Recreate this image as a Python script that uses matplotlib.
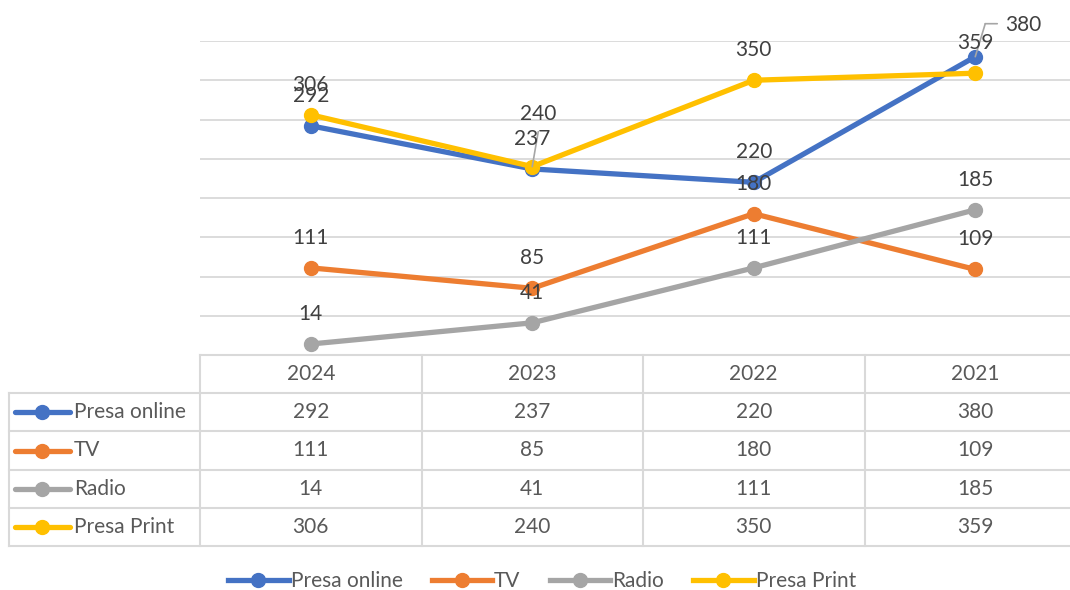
import matplotlib
matplotlib.use("Agg")
import matplotlib.pyplot as plt
from matplotlib.lines import Line2D
from matplotlib.transforms import offset_copy

plt.rcParams['font.family'] = ['Lato', 'DejaVu Sans']

years = ["2024", "2023", "2022", "2021"]
series_names = ["Presa online", "TV", "Radio", "Presa Print"]
presa_online = [292, 237, 220, 380]
tv = [111, 85, 180, 109]
radio = [14, 41, 111, 185]
presa_print = [306, 240, 350, 359]
series_values = [presa_online, tv, radio, presa_print]
colors = ["#4472C4", "#ED7D31", "#A5A5A5", "#FFC000"]

W, H = 1070, 590
fig = plt.figure(figsize=(W / 100, H / 100), dpi=100)

def fx(px):
    return px / W

def fy(py):
    return 1 - py / H

# plot area: x 200..1086 px, y 41..355 px
L, R, T, B = 200, 1086, 41, 355
ax = fig.add_axes([fx(L), fy(B), fx(R - L), (B - T) / H])
ax.set_xlim(0, len(years))
ax.set_ylim(0, 400)
for s in ax.spines.values():
    s.set_visible(False)
ax.set_xticks([])
ax.set_yticks(range(50, 401, 50))
ax.tick_params(left=False, labelleft=False)
ax.yaxis.grid(True, color="#d9d9d9", linewidth=1.3)
ax.set_axisbelow(True)

xs = [i + 0.5 for i in range(len(years))]
txtcol = "#404040"
fs = 15
px2pt = 72 / 100
leadcol = "#a6a6a6"
for vals, c in zip(series_values, colors):
    ax.plot(xs, vals, color=c, linewidth=3.8, marker="o", markersize=10,
            solid_capstyle="round", zorder=3)

def leader(x, v, pts):
    # polyline through offsets (in px) from the data point
    for (ax0, ay0), (ax1, ay1) in zip(pts[:-1], pts[1:]):
        tr = offset_copy(ax.transData, fig=fig, x=ax0 * px2pt, y=ay0 * px2pt,
                         units="points")
        ax.annotate("", xy=(x, v), xycoords=tr,
                    xytext=((ax1 - ax0) * px2pt, (ay1 - ay0) * px2pt),
                    textcoords="offset points",
                    arrowprops=dict(arrowstyle="-", color=leadcol, lw=1.2,
                                    shrinkA=0, shrinkB=0), zorder=4)

for si, vals in enumerate(series_values):
    for xi, (x, v) in enumerate(zip(xs, vals)):
        if si == 0 and xi == 3:
            ax.annotate(str(v), (x, v), xytext=(30 * px2pt, 32 * px2pt),
                        textcoords="offset points", ha="left", va="center",
                        fontsize=fs, color=txtcol, zorder=5)
            leader(x, v, [(0, 0), (10, 33), (22, 33)])
        elif si == 3 and xi == 1:
            ax.annotate(str(v), (x, v), xytext=(6 * px2pt, 53 * px2pt),
                        textcoords="offset points", ha="center", va="center",
                        fontsize=fs, color=txtcol, zorder=5)
            leader(x, v, [(0, 0), (6, 35)])
        else:
            ax.annotate(str(v), (x, v), xytext=(0, 30 * px2pt),
                        textcoords="offset points", ha="center", va="center",
                        fontsize=fs, color=txtcol, zorder=5)

# data table: x 8.5..1086 px, y 355..546 px
TL, TT, TB = 8.5, 355, 546
tab = fig.add_axes([fx(TL), fy(TB), fx(R - TL), (TB - TT) / H])
x_left = (TL - L) / (R - L) * len(years)
tab.set_xlim(x_left, len(years))
nrows = len(series_names) + 1
tab.set_ylim(nrows, 0)
tab.axis("off")
gc = "#d9d9d9"
lw = 1.5
tab.plot([0, len(years)], [0, 0], color=gc, lw=lw, clip_on=False)
for r in range(1, nrows + 1):
    tab.plot([x_left, len(years)], [r, r], color=gc, lw=lw, clip_on=False)
tab.plot([x_left, x_left], [1, nrows], color=gc, lw=lw, clip_on=False)
for c in range(len(years)):
    tab.plot([c, c], [0, nrows], color=gc, lw=lw, clip_on=False)

tcol = "#595959"
for c, yv in enumerate(years):
    tab.text(c + 0.5, 0.5, yv, ha="center", va="center", fontsize=fs, color=tcol)
ppu = (R - L) / len(years)
for r, (name, vals, col) in enumerate(zip(series_names, series_values, colors), start=1):
    k0 = (15 - L) / ppu
    k1 = (70 - L) / ppu
    tab.plot([k0, k1], [r + 0.5, r + 0.5], color=col, lw=3.8, solid_capstyle="round")
    tab.plot([(k0 + k1) / 2], [r + 0.5], color=col, marker="o", markersize=10)
    tab.text((74 - L) / ppu, r + 0.5, name, ha="left", va="center", fontsize=fs, color=tcol)
    for c, v in enumerate(vals):
        tab.text(c + 0.5, r + 0.5, str(v), ha="center", va="center", fontsize=fs, color=tcol)

handles = [Line2D([0], [0], color=c, lw=3.8, marker="o", markersize=10) for c in colors]
fig.legend(handles, series_names, loc="center", bbox_to_anchor=(fx(542), fy(581)),
           ncol=4, frameon=False, fontsize=fs, handlelength=2.9, handletextpad=0.1,
           columnspacing=1.4, labelcolor=tcol)

fig.savefig("out.png", dpi=100, facecolor="white")
